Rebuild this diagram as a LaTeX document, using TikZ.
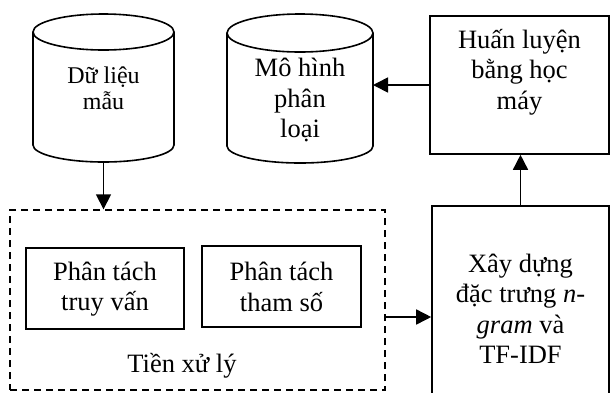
\documentclass[tikz,border=0pt]{standalone}
\usepackage{fontspec}
\setmainfont{Liberation Serif}
\usetikzlibrary{arrows.meta}
\begin{document}
\begin{tikzpicture}[x=1pt,y=-1pt,
  line/.style={line width=1.6pt},
  arr/.style={line width=1.6pt,-{Triangle[length=15pt,width=15pt]}},
  txt/.style={align=center,inner sep=0pt,font=\fontsize{26.5}{30.5}\selectfont},
  stxt/.style={align=center,inner sep=0pt,font=\fontsize{24}{26}\selectfont},
  boxn/.style={draw,line width=1.6pt,inner sep=0pt},
  dashbox/.style={draw,line width=1.4pt,dash pattern=on 7pt off 5pt,inner sep=0pt}]
\useasboundingbox (0,0) rectangle (610,392);
\fill[white] (0,0) rectangle (610,392);
% cylinder 1: Du lieu mau
\draw[line] (33,32) -- (33,145) arc[start angle=180,end angle=0,x radius=70.5,y radius=17] -- (174,32);
\draw[line] (103.5,32) ellipse[x radius=70.5,y radius=18];
\coordinate (dlb) at (103.5,162);
\node[stxt] (dl) at (103.5,88) {Dữ liệu\\mẫu};
% cylinder 2: Mo hinh phan loai
\draw[line] (227,33) -- (227,146) arc[start angle=180,end angle=0,x radius=73,y radius=17] -- (373,33);
\draw[line] (300,33) ellipse[x radius=73,y radius=19];
\coordinate (mhr) at (373,85);
\node[txt] (mh) at (300,100) {Mô hình\\phân\\loại};
% Huan luyen box
\node[boxn,minimum width=179pt,minimum height=138pt] (hl) at (519.5,85) {};
\node[txt] (hlt) at (519.5,72) {Huấn luyện\\bằng học\\máy};
% Xay dung box
\node[boxn,minimum width=177pt,minimum height=190pt] (xd) at (520.5,301) {};
\node[txt] (xdt) at (520.5,309) {Xây dựng\\đặc trưng \textit{n}-\\\textit{gram} và\\TF-IDF};
% preprocessing dashed box
\node[dashbox,minimum width=375pt,minimum height=180pt] (pre) at (197.5,300) {};
\node[boxn,minimum width=158pt,minimum height=81pt] (ptq) at (105,288.5) {};
\node[txt] (ptqt) at (105,289) {Phân tách\\truy vấn};
\node[boxn,minimum width=159pt,minimum height=81pt] (pts) at (281.5,286.5) {};
\node[txt] (ptst) at (281.5,287) {Phân tách\\tham số};
\node[txt] (tx) at (182,366) {Tiền xử lý};
% connectors
\draw[arr] (dlb) -- (dlb |- pre.north);
\draw[arr] ([yshift=-17pt]pre.east) -- ([yshift=-17pt]pre.east -| xd.west);
\draw[arr] (xd.north) -- (xd.north |- hl.south);
\draw[arr] (hl.west) -- (mhr);
\end{tikzpicture}
\end{document}
